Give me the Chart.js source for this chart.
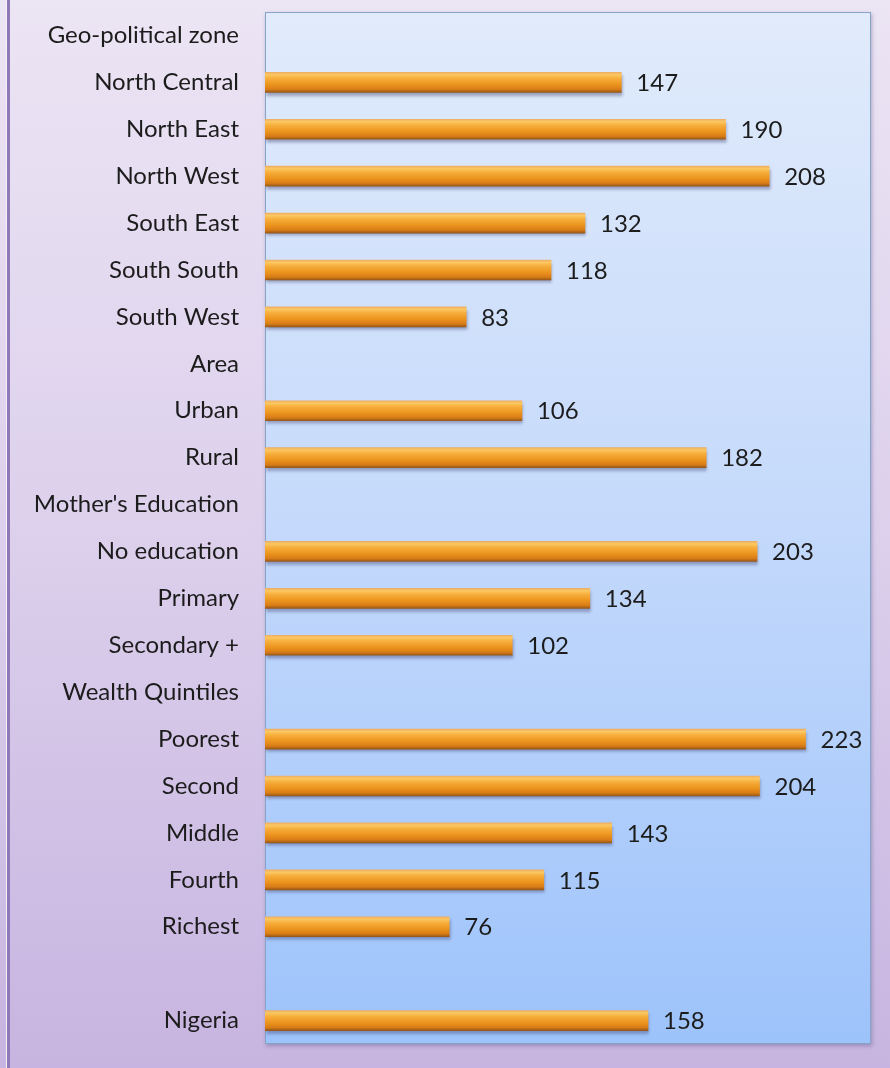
<!DOCTYPE html>
<html>
<head>
<meta charset="utf-8">
<script src="https://cdn.jsdelivr.net/npm/chart.js@4"></script>
<style>
  html, body { margin: 0; padding: 0; }
  body {
    width: 890px; height: 1068px; overflow: hidden;
    background: linear-gradient(to bottom, #ece5f4 0%, #dcd0ec 50%, #c7b4e0 100%);
  }
  #wrap { position: relative; width: 890px; height: 1068px; }
  #frame { position: absolute; left: 6px; top: 0; width: 3px; height: 1068px;
           border-left: 1px solid #f4f0f8; background: #8f78b8; }
  canvas { position: absolute; left: 0; top: 0; }
</style>
</head>
<body>
<div id="wrap">
  <div id="frame"></div>
  <canvas id="mortalityChart" width="890" height="1068"></canvas>
</div>
<script>
// row labels (blank-value rows are group headers)
const categories = [
  'Geo-political zone', 'North Central', 'North East', 'North West', 'South East', 'South South', 'South West',
  'Area', 'Urban', 'Rural',
  "Mother's Education", 'No education', 'Primary', 'Secondary +',
  'Wealth Quintiles', 'Poorest', 'Second', 'Middle', 'Fourth', 'Richest',
  '', 'Nigeria'
];
const values = [
  null, 147, 190, 208, 132, 118, 83,
  null, 106, 182,
  null, 203, 134, 102,
  null, 223, 204, 143, 115, 76,
  null, 158
];
const axisMin = 0;
const axisMax = 250;

const labelFont = { family: 'Lato', size: 24 };

function barFill(context) {
  const chart = context.chart;
  const yScale = chart.scales.y;
  const cy = yScale ? yScale.getPixelForValue(context.dataIndex) : NaN;
  if (!isFinite(cy)) return '#ec951e';
  const h = 20;
  const g = chart.ctx.createLinearGradient(0, cy - h / 2, 0, cy + h / 2);
  g.addColorStop(0, '#eeae62');
  g.addColorStop(0.12, '#fbc862');
  g.addColorStop(0.3, '#f7ae3c');
  g.addColorStop(0.6, '#ec951e');
  g.addColorStop(0.85, '#d87c16');
  g.addColorStop(1, '#975818');
  return g;
}

const plotBackground = {
  id: 'plotBackground',
  beforeDatasetsDraw(chart) {
    const a = chart.chartArea;
    const ctx = chart.ctx;
    ctx.save();
    ctx.shadowColor = 'rgba(60,60,110,0.35)';
    ctx.shadowBlur = 4;
    ctx.shadowOffsetX = 1;
    ctx.shadowOffsetY = 2;
    const g = ctx.createLinearGradient(0, a.top, 0, a.bottom);
    g.addColorStop(0, '#e1ebfb');
    g.addColorStop(0.5, '#c4d9fb');
    g.addColorStop(1, '#9dc3fb');
    ctx.fillStyle = g;
    ctx.fillRect(a.left, a.top, a.right - a.left, a.bottom - a.top);
    ctx.restore();
    ctx.save();
    ctx.strokeStyle = '#86a4c8';
    ctx.lineWidth = 1;
    ctx.strokeRect(a.left + 0.5, a.top + 0.5, a.right - a.left - 1, a.bottom - a.top - 1);
    ctx.restore();
  },
  beforeDatasetDraw(chart) {
    const ctx = chart.ctx;
    ctx.save();
    ctx.shadowColor = 'rgba(50,50,100,0.4)';
    ctx.shadowBlur = 3;
    ctx.shadowOffsetX = 1;
    ctx.shadowOffsetY = 3;
  },
  afterDatasetDraw(chart) {
    chart.ctx.restore();
  }
};

const valueLabels = {
  id: 'valueLabels',
  afterDatasetsDraw(chart) {
    const ctx = chart.ctx;
    const meta = chart.getDatasetMeta(0);
    ctx.save();
    ctx.font = labelFont.size + 'px ' + labelFont.family;
    ctx.fillStyle = '#1c1c1c';
    ctx.textBaseline = 'middle';
    meta.data.forEach((bar, i) => {
      if (values[i] === null) return;
      ctx.fillText(String(values[i]), bar.x + 15, bar.y + 1);
    });
    ctx.restore();
  }
};

const ctx = document.getElementById('mortalityChart').getContext('2d');
const mortalityChart = new Chart(ctx, {
  type: 'bar',
  data: {
    labels: categories,
    datasets: [{
      data: values,
      backgroundColor: barFill,
      borderWidth: 0,
      barThickness: 20
    }]
  },
  options: {
    indexAxis: 'y',
    responsive: false,
    animation: false,
    layout: { padding: { left: 0, right: 19, top: 12, bottom: 24 } },
    plugins: {
      legend: { display: false },
      tooltip: { enabled: false }
    },
    scales: {
      x: {
        display: false,
        min: axisMin,
        max: axisMax
      },
      y: {
        grid: { display: false, drawTicks: false },
        border: { display: false },
        ticks: {
          color: '#1c1c1c',
          font: labelFont,
          padding: 26,
          autoSkip: false
        },
        afterFit(scale) {
          scale.width = 265;
          scale.paddingTop = 0;
          scale.paddingBottom = 0;
        }
      }
    }
  },
  plugins: [plotBackground, valueLabels]
});
</script>
</body>
</html>
